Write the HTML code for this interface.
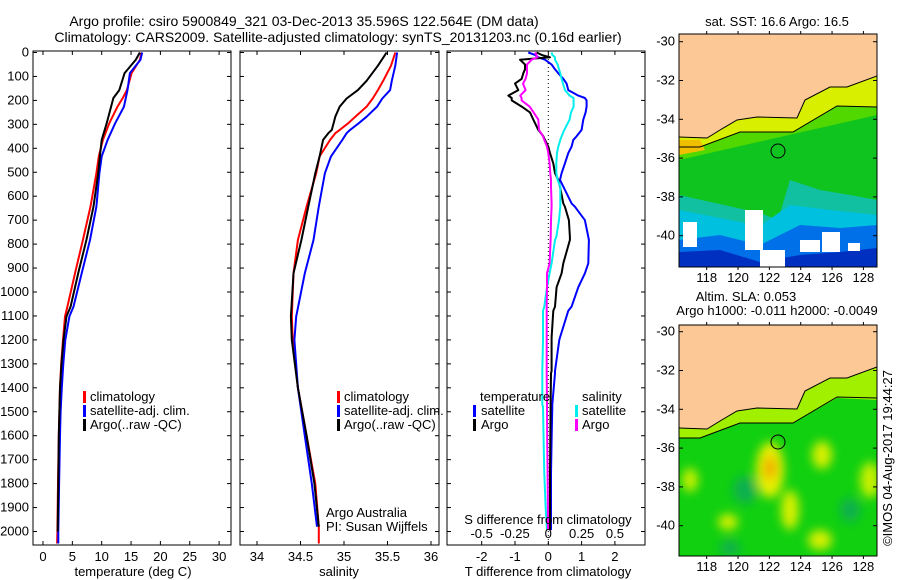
<!DOCTYPE html>
<html><head><meta charset="utf-8"><style>
body{margin:0;background:#fff}
svg{display:block;font-family:"Liberation Sans",sans-serif;font-size:13px}
</style></head><body>
<svg id="c" width="900" height="580" viewBox="0 0 900 580">
<g id="titles" style="font-size:14px">
<text x="304" y="26" text-anchor="middle">Argo profile: csiro 5900849_321 03-Dec-2013 35.596S 122.564E (DM data)</text>
<text x="338" y="42" text-anchor="middle">Climatology: CARS2009. Satellite-adjusted climatology: synTS_20131203.nc (0.16d earlier)</text>
</g>
<g id="p1"></g>
<g id="p2"></g>
<g id="p3"></g>
<defs><filter id="bl"><feGaussianBlur stdDeviation="5"/></filter><clipPath id="m1c"><rect x="679" y="34" width="198" height="233"/></clipPath><clipPath id="m2c"><rect x="679" y="325" width="198" height="231"/></clipPath></defs>
<g id="map1" clip-path="url(#m1c)">
<rect x="679" y="34" width="198" height="233" fill="#10c420"/>
<polygon points="679,147 740,132 793,132 837,106 877,107 877,115 679,160" fill="#50d800"/>
<polygon points="679,195 760,213 778,220 790,180 820,190 850,195 877,200 877,267 679,267" fill="#10c0a0"/>
<polygon points="679,210 740,222 760,226 790,205 830,210 877,215 877,267 679,267" fill="#00c0e0"/>
<polygon points="679,240 720,235 760,245 800,225 840,228 877,225 877,267 679,267" fill="#0070e8"/>
<polygon points="679,252 720,250 760,262 800,255 840,252 877,248 877,267 679,267" fill="#0030c0"/>
<rect x="683" y="222" width="14" height="25" fill="#fff"/>
<rect x="745" y="210" width="18" height="40" fill="#fff"/>
<rect x="760" y="250" width="25" height="17" fill="#fff"/>
<rect x="800" y="240" width="20" height="12" fill="#fff"/>
<rect x="822" y="232" width="18" height="20" fill="#fff"/>
<rect x="848" y="243" width="12" height="8" fill="#fff"/>
<polygon points="679,34 877,34 877,76 847,87 830,87 805,100 797,118 757,117 737,120 720,130 707,138 679,137" fill="#fbc896"/>
<polygon points="679,137 707,138 720,130 737,120 757,117 797,118 805,100 830,87 847,87 877,76 877,107 837,106 793,132 740,132 700,147 679,147" fill="#d8f000"/>
<polygon points="679,140 700,140 705,150 679,155" fill="#f0c000"/>
<polyline points="679,137 707,138 720,130 737,120 757,117 797,118 805,100 830,87 847,87 877,76" fill="none" stroke="#000"/>
<polyline points="679,147 700,147 740,132 793,132 837,106 877,107" fill="none" stroke="#000"/>
<circle cx="778" cy="151" r="7" fill="none" stroke="#000"/>
</g>
<g id="map2" clip-path="url(#m2c)">
<rect x="679" y="325" width="198" height="231" fill="#10d010"/>
<g filter="url(#bl)">
<ellipse cx="770" cy="470" rx="14" ry="28" fill="#e8f000"/>
<ellipse cx="770" cy="468" rx="7" ry="12" fill="#f0b000"/>
<ellipse cx="790" cy="510" rx="9" ry="20" fill="#d8f000"/>
<ellipse cx="822" cy="455" rx="10" ry="14" fill="#d8f000"/>
<ellipse cx="870" cy="480" rx="10" ry="18" fill="#c8f000"/>
<ellipse cx="728" cy="522" rx="10" ry="8" fill="#d8f000"/>
<ellipse cx="690" cy="480" rx="8" ry="12" fill="#c8f000"/>
<ellipse cx="820" cy="540" rx="12" ry="10" fill="#d8f000"/>
<ellipse cx="745" cy="490" rx="12" ry="14" fill="#10b050"/>
<ellipse cx="730" cy="548" rx="10" ry="8" fill="#10b050"/>
<ellipse cx="850" cy="510" rx="10" ry="12" fill="#10b050"/>
</g>
<polygon points="679,428 707,429 720,421 737,411 757,408 797,409 805,391 830,378 847,378 877,367 877,400 837,398 793,423 740,423 700,438 679,438" fill="#a0f000"/>
<polygon points="679,325 877,325 877,367 847,378 830,378 805,391 797,409 757,408 737,411 720,421 707,429 679,428" fill="#fbc896"/>
<polyline points="679,428 707,429 720,421 737,411 757,408 797,409 805,391 830,378 847,378 877,367" fill="none" stroke="#000"/>
<polyline points="679,438 700,438 740,423 793,423 837,397 877,398" fill="none" stroke="#000"/>
<circle cx="778" cy="442" r="7" fill="none" stroke="#000"/>
</g>
<g id="mapaxes"></g>
<text x="777" y="26" text-anchor="middle">sat. SST: 16.6 Argo: 16.5</text>
<text x="746" y="301" text-anchor="middle">Altim. SLA: 0.053</text>
<text x="777" y="315" text-anchor="middle">Argo h1000: -0.011 h2000: -0.0049</text>
<text transform="translate(892,458) rotate(-90)" text-anchor="middle">©IMOS 04-Aug-2017 19:44:27</text>
</svg>
<script>
// depth grid (m) for profiles
const depthT=[0,31,86,157,190,226,295,365,434,504,643,783,922,1061,1102,1200,1300,1400,1500,1600,1800,2000,2050];
const tempClim=[16.8,16.5,15.1,14.3,13.6,12.7,11.3,10.2,9.5,9.1,8.1,6.8,5.45,4.15,3.75,3.4,3.1,2.9,2.8,2.7,2.55,2.45,2.4];
const tempSat=[16.9,16.6,14.8,14.4,14.1,13.8,12.3,11.0,10.0,9.6,9.1,8.0,6.6,5.2,4.5,3.8,3.45,3.2,3.0,2.9,2.75,2.6,2.6];
const tempArgo=[16.5,15.8,13.9,13.0,12.0,11.6,10.85,10.0,9.7,9.4,8.6,7.4,6.0,4.7,4.0,3.5,3.15,2.9,2.8,2.7,2.6,2.5,2.5];
const depthS=[0,55,118,157,192,226,268,295,323,337,365,434,504,643,783,922,1102,1200,1400,1600,1800,1980,2050];
const salClim=[35.59,35.54,35.45,35.39,35.33,35.26,35.13,35.05,34.95,34.9,34.84,34.72,34.68,34.57,34.47,34.42,34.40,34.41,34.47,34.57,34.67,34.71,34.71];
const salSat=[35.61,35.59,35.55,35.53,35.44,35.38,35.26,35.17,35.07,35.03,34.98,34.85,34.78,34.71,34.65,34.55,34.45,34.43,34.47,34.55,34.63,34.69,34.69];
const salArgo=[35.49,35.39,35.26,35.16,35.03,34.95,34.90,34.88,34.86,34.82,34.76,34.72,34.67,34.59,34.51,34.42,34.39,34.40,34.47,34.57,34.66,34.71,34.71];
const depthD=[0,10,20,30,50,70,87,110,130,157,180,190,200,226,250,280,323,350,365,393,420,463,504,532,560,630,644,700,770,783,880,922,980,1061,1078,1190,1200,1330,1340,1470,1479,1618,1757,1896,1994];
const dTSat=[-0.6,-0.4,-0.3,-0.1,0.1,0.2,0.3,0.45,0.55,0.6,0.9,1.1,1.15,1.15,1.12,1.05,1.0,0.85,0.75,0.7,0.6,0.5,0.4,0.35,0.45,0.7,0.8,1.1,1.2,1.22,1.2,1.1,0.9,0.7,0.6,0.35,0.33,0.2,0.2,0.12,0.12,0.1,0.08,0.08,0.08];
const dTArgo=[-0.35,-0.2,0.05,-0.85,-0.7,-0.7,-0.75,-0.8,-1.0,-0.9,-1.2,-1.1,-1.1,-0.8,-0.55,-0.45,-0.3,-0.15,-0.1,0.0,0.05,0.15,0.2,0.3,0.35,0.45,0.5,0.62,0.65,0.65,0.45,0.4,0.25,0.2,0.15,0.1,0.1,0.1,0.08,0.07,0.07,0.06,0.05,0.05,0.05];
const dSSat=[0.025,0.03,0.05,0.05,0.07,0.08,0.09,0.1,0.11,0.125,0.16,0.19,0.19,0.19,0.17,0.16,0.12,0.1,0.09,0.075,0.065,0.06,0.06,0.07,0.09,0.09,0.09,0.08,0.06,0.05,0.025,0.01,-0.01,-0.03,-0.04,-0.04,-0.04,-0.045,-0.045,-0.045,-0.04,-0.035,-0.03,-0.02,-0.01];
const dSArgo=[-0.1,-0.09,-0.08,-0.125,-0.16,-0.16,-0.16,-0.17,-0.19,-0.17,-0.21,-0.2,-0.2,-0.14,-0.11,-0.075,-0.07,-0.04,-0.03,-0.01,0.0,0.01,0.015,0.02,0.02,0.025,0.025,0.02,0.018,0.017,0.01,-0.01,-0.01,-0.012,-0.012,-0.012,-0.012,-0.012,-0.012,-0.01,-0.01,-0.008,-0.005,-0.003,-0.002];
const depthTicks=[0,100,200,300,400,500,600,700,800,900,1000,1100,1200,1300,1400,1500,1600,1700,1800,1900,2000];
const tempTicks=[0,5,10,15,20,25,30];
const salTicks=[34,34.5,35,35.5,36];
const salTickLabels=["34","34.5","35","35.5","36"];
const dTTicks=[-2,-1,0,1,2];
const dSTicks=[-0.5,-0.25,0,0.25,0.5];
const latTicks=[-30,-32,-34,-36,-38,-40];
const lonTicks=[118,120,122,124,126,128];

const NS="http://www.w3.org/2000/svg";
function mk(p,tag,at){const e=document.createElementNS(NS,tag);for(const k in at)e.setAttribute(k,at[k]);p.appendChild(e);return e;}
const yD=d=>52.5+d*0.2395;
const TOP=51,BOT=545;
const xT=v=>43+v*5.87;
const xS=v=>257+(v-34)*87;
const xDT=v=>548.3+v*33.3;
const xDS=v=>548.3+v*133.3;

function frame(g,x0,x1,name){
  const r=mk(g,'rect',{x:x0,y:TOP,width:x1-x0,height:BOT-TOP,fill:'none',stroke:'#000'});
  
  
  depthTicks.forEach(d=>{
    mk(g,'line',{x1:x0,x2:x0+4,y1:yD(d),y2:yD(d),stroke:'#000'});
    mk(g,'line',{x1:x1-4,x2:x1,y1:yD(d),y2:yD(d),stroke:'#000'});
  });
}
function xticks(g,vals,fx,labels,ly){
  vals.forEach((v,i)=>{
    mk(g,'line',{x1:fx(v),x2:fx(v),y1:TOP,y2:TOP+4,stroke:'#000'});
    mk(g,'line',{x1:fx(v),x2:fx(v),y1:BOT-4,y2:BOT,stroke:'#000'});
    if(labels){const t=mk(g,'text',{x:fx(v),y:ly,'text-anchor':'middle'});t.textContent=labels[i];
      
      }
  });
}
function line(g,xs,ds,fx,col,name,w){
  const pts=xs.map((v,i)=>fx(v).toFixed(1)+','+yD(ds[i]).toFixed(1)).join(' ');
  const p=mk(g,'polyline',{points:pts,fill:'none',stroke:col,'stroke-width':w||2,'stroke-linejoin':'round'});
  
  
}
function txt(g,x,y,s,anchor,name){const t=mk(g,'text',{x:x,y:y,'text-anchor':anchor||'start'});t.textContent=s;
  
  return t;}
function legbar(g,x,y,col){mk(g,'rect',{x:x,y:y-10,width:3,height:12,fill:col});}

// Panel 1
const p1=document.getElementById('p1');
frame(p1,33,231,'temperature');
depthTicks.forEach(d=>{txt(p1,29,yD(d)+4,String(d),'end','depth-tick-label');});
xticks(p1,tempTicks,xT,tempTicks.map(String),561);
txt(p1,133,576,'temperature (deg C)','middle','x-axis-title-temperature');
line(p1,tempClim,depthT,xT,'#f00','temp-climatology-line');
line(p1,tempSat,depthT,xT,'#00f','temp-satellite-line');
line(p1,tempArgo.slice(0,22),depthT.slice(0,22),xT,'#000','temp-argo-line');
[['climatology','#f00'],['satellite-adj. clim.','#00f'],['Argo(..raw -QC)','#000']].forEach((e,i)=>{
  legbar(p1,83,401+i*14,e[1]);txt(p1,90,401+i*14,e[0],'start','legend-entry');});
// Panel 2
const p2=document.getElementById('p2');
frame(p2,240,439,'salinity');
xticks(p2,salTicks,xS,salTickLabels,561);
txt(p2,339,576,'salinity','middle','x-axis-title-salinity');
line(p2,salClim,depthS,xS,'#f00','sal-climatology-line');
line(p2,salSat.slice(0,22),depthS.slice(0,22),xS,'#00f','sal-satellite-line');
line(p2,salArgo.slice(0,22),depthS.slice(0,22),xS,'#000','sal-argo-line');
[['climatology','#f00'],['satellite-adj. clim.','#00f'],['Argo(..raw -QC)','#000']].forEach((e,i)=>{
  legbar(p2,337,401+i*14,e[1]);txt(p2,344,401+i*14,e[0],'start','legend-entry');});
txt(p2,326,517,'Argo Australia','start','pi-institution');
txt(p2,326,531,'PI: Susan Wijffels','start','pi-name');
// Panel 3
const p3=document.getElementById('p3');
frame(p3,447,645,'difference');
xticks(p3,dTTicks,xDT,dTTicks.map(String),561);
mk(p3,'line',{x1:548.3,x2:548.3,y1:TOP,y2:BOT,stroke:'#000','stroke-dasharray':'1,3'});
line(p3,dTSat,depthD,xDT,'#00f','dT-satellite-line');
line(p3,dTArgo,depthD,xDT,'#000','dT-argo-line');
line(p3,dSSat,depthD,xDS,'#0ee','dS-satellite-line');
line(p3,dSArgo,depthD,xDS,'#f0f','dS-argo-line');
txt(p3,480,401,'temperature','start','legend-temperature-heading');
txt(p3,582,401,'salinity','start','legend-salinity-heading');
legbar(p3,473,415,'#00f');txt(p3,481,415,'satellite','start','legend-entry');
legbar(p3,473,429,'#000');txt(p3,481,429,'Argo','start','legend-entry');
legbar(p3,575,415,'#0ee');txt(p3,582,415,'satellite','start','legend-entry');
legbar(p3,575,429,'#f0f');txt(p3,582,429,'Argo','start','legend-entry');
txt(p3,548,524,'S difference from climatology','middle','s-diff-axis-title');
dSTicks.forEach(v=>txt(p3,xDS(v),538,String(v),'middle','s-diff-tick-label'));
txt(p3,548,576,'T difference from climatology','middle','x-axis-title-tdiff');
// Map axes
const ma=document.getElementById('mapaxes');
const xLon=v=>706.7+(v-118)*15.67;
[[34,267,41.7],[325,556,331.7]].forEach(([t,b,l30],k)=>{
  mk(ma,'rect',{x:679,y:t,width:198,height:b-t,fill:'none',stroke:'#000'});
  latTicks.forEach(v=>{const y=l30+(-30-v)*19.4;
    mk(ma,'line',{x1:679,x2:683,y1:y,y2:y,stroke:'#000'});
    mk(ma,'line',{x1:873,x2:877,y1:y,y2:y,stroke:'#000'});
    txt(ma,675,y+4,String(v),'end','lat-tick-label');});
  lonTicks.forEach(v=>{const x=xLon(v);
    mk(ma,'line',{x1:x,x2:x,y1:t-3,y2:t,stroke:'#000'});
    mk(ma,'line',{x1:x,x2:x,y1:b,y2:b+3,stroke:'#000'});
    txt(ma,x,b+15,String(v),'middle','lon-tick-label');});
});
</script>
</body></html>
